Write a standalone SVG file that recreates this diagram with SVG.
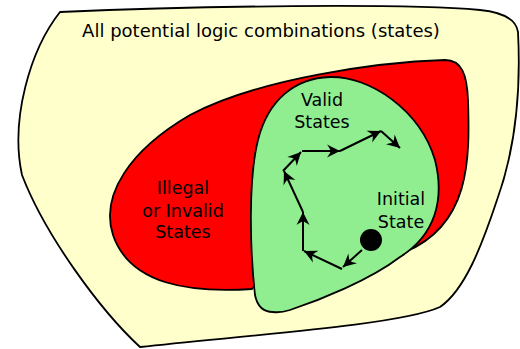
<svg xmlns="http://www.w3.org/2000/svg" width="520" height="349" viewBox="0 0 520 349">
<style>
.shape{stroke:#000;stroke-width:1.8;stroke-linejoin:round}
text{font-family:"DejaVu Sans",sans-serif;fill:#000;text-anchor:middle}
.lbl{font-size:17.5px}
.conn line{stroke:#000;stroke-width:2;marker-end:url(#ah)}
</style>
<defs>
<marker id="ah" viewBox="-15 -8 16 16" refX="0" refY="0" markerWidth="16" markerHeight="16" markerUnits="userSpaceOnUse" orient="auto">
<path d="M0,0 L-13,-6.5 Q-9,-1 -9.5,0 Q-9,1 -13,6.5 Z" fill="#000"/>
</marker>
</defs>
<rect width="520" height="349" fill="#fff"/>
<g id="all-states">
<path class="shape" fill="#ffffcc" d="M60,12 C200,6 400,3 480,10 C500,12 516,18 518,32 C521,90 515,150 497,200 C482,245 465,290 440,307 C400,325 250,335 140,347 C100,310 45,235 22,175 C10,120 30,50 60,12 Z"/>
<text x="261" y="37" style="font-size:18px">All potential logic combinations (states)</text>
</g>
<g id="invalid-states">
<path class="shape" fill="#ff0000" d="M252,289 C190,293 130,285 113,235 C100,195 130,150 190,115 C260,78 380,62 445,60 C462,60 467,75 468,100 C470,160 470,225 405,252 L330,200 Z"/>
<text class="lbl" x="183" y="194">Illegal</text>
<text class="lbl" x="183" y="217">or Invalid</text>
<text class="lbl" x="183" y="238">States</text>
</g>
<g id="valid-states">
<path class="shape" fill="#90ee90" d="M273,312 C262,312 257,305 255,295 C250,250 248,180 258,140 C268,100 295,78 330,77 C370,76 420,110 435,160 C445,200 435,235 400,257 C370,280 320,300 290,310 Q280,313 273,312 Z"/>
<text class="lbl" x="322" y="106">Valid</text>
<text class="lbl" x="322" y="128">States</text>
</g>
<g id="initial-state">
<circle cx="371" cy="240" r="11" fill="#000"/>
<text class="lbl" x="401" y="205">Initial</text>
<text class="lbl" x="401" y="228">State</text>
</g>
<g id="connectors" class="conn">
<line x1="362" y1="250" x2="343" y2="267"/>
<line x1="342" y1="269" x2="304" y2="251"/>
<line x1="303" y1="251" x2="303" y2="212"/>
<line x1="303" y1="212" x2="284" y2="171"/>
<line x1="283" y1="171" x2="301" y2="152"/>
<line x1="302" y1="151" x2="340" y2="151"/>
<line x1="340" y1="151" x2="381" y2="131"/>
<line x1="381" y1="131" x2="400" y2="148"/>
</g>
</svg>
